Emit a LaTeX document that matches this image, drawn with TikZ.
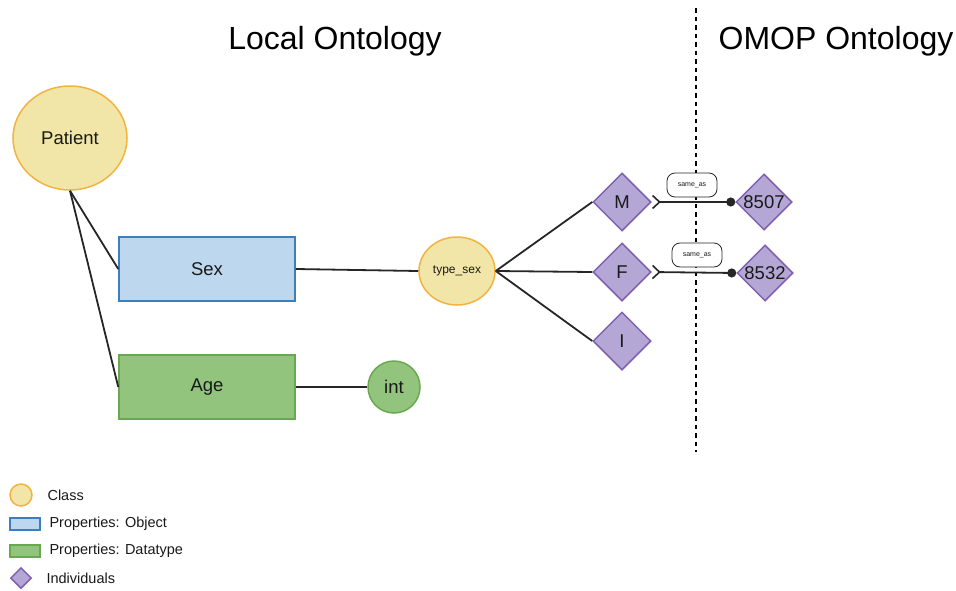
\documentclass[tikz,border=0pt]{standalone}
\usepackage{fontspec}
\setmainfont{Liberation Sans}
\usetikzlibrary{shapes.geometric,arrows.meta}

\definecolor{clsfill}{RGB}{241,229,168}
\definecolor{clsdraw}{RGB}{242,179,64}
\definecolor{objfill}{RGB}{189,215,238}
\definecolor{objdraw}{RGB}{61,126,191}
\definecolor{dtfill}{RGB}{147,196,125}
\definecolor{dtdraw}{RGB}{106,168,79}
\definecolor{indfill}{RGB}{180,167,214}
\definecolor{inddraw}{RGB}{128,96,176}
\definecolor{edgecol}{RGB}{38,38,38}
\definecolor{txt}{RGB}{25,25,25}

\newcommand{\fsz}[1]{\fontsize{#1}{#1}\selectfont}

\tikzset{
  class/.style={ellipse, draw=clsdraw, fill=clsfill, line width=1.5pt, inner sep=0pt, text=txt},
  objprop/.style={rectangle, draw=objdraw, fill=objfill, line width=1.5pt, inner sep=0pt, text=txt},
  dtprop/.style={rectangle, draw=dtdraw, fill=dtfill, line width=1.5pt, inner sep=0pt, text=txt},
  indiv/.style={diamond, draw=inddraw, fill=indfill, line width=1.5pt, inner sep=0pt, aspect=1, text=txt},
  link/.style={draw=edgecol, line width=1.8pt},
  sameas/.style={rectangle, rounded corners=8pt, draw=edgecol, fill=white, line width=0.8pt,
    minimum width=50pt, minimum height=24pt, inner sep=0pt, font=\fsz{7}, text=txt},
  divider/.style={draw=black, line width=1.6pt, dash pattern=on 4.5pt off 4pt},
  title/.style={font=\fsz{32}, text=black},
  legendtext/.style={anchor=west, font=\fsz{14.5}, text=txt},
}

\begin{document}
\begin{tikzpicture}[x=1pt,y=-1pt]
\useasboundingbox (0,0) rectangle (956,590);

% section titles and divider
\node[title] (localtitle) at (335,41) {Local Ontology};
\node[title] (omoptitle) at (836,41) {OMOP Ontology};
\coordinate (divtop) at (696,8);
\coordinate (divbot) at (696,452);
\draw[divider] (divtop) -- (divbot);

% classes and properties
\node[class, minimum width=114pt, minimum height=104pt, font=\fsz{18.5}] (patient) at (70,138) {Patient};
\node[objprop, minimum width=176pt, minimum height=64pt, font=\fsz{18.5}] (sex) at (207,269) {Sex};
\node[dtprop, minimum width=176pt, minimum height=64pt, font=\fsz{18.5}] (age) at (207,387) {Age};
\node[class, minimum width=76pt, minimum height=68pt, font=\fsz{12}] (typesex) at (457,271) {type\_sex};
\node[ellipse, draw=dtdraw, fill=dtfill, line width=1.5pt, minimum size=52pt, inner sep=0pt,
      font=\fsz{18.5}, text=txt] (int) at (394,387) {int};

% individuals
\node[indiv, minimum size=58pt, font=\fsz{18.5}] (m) at (622,202) {M};
\node[indiv, minimum size=58pt, font=\fsz{18.5}] (f) at (622,272) {F};
\node[indiv, minimum size=58pt, font=\fsz{18.5}] (i) at (622,341) {I};
\node[indiv, minimum size=56pt, font=\fsz{18.5}] (c8507) at (764,202) {8507};
\node[indiv, minimum size=56pt, font=\fsz{18.5}] (c8532) at (765,273) {8532};

% connectors
\draw[link] (patient.south) -- (sex.west);
\draw[link] (patient.south) -- (age.west);
\draw[link] (sex.east) -- (typesex.west);
\draw[link] (age.east) -- (int.west);
\draw[link] (typesex.east) -- (m.west);
\draw[link] (typesex.east) -- (f.west);
\draw[link] (typesex.east) -- (i.west);
\draw[link, {Straight Barb[reversed,length=7pt,width=13pt,line width=1.6pt]}-{Circle[length=9pt]}] (m.east) -- (c8507.west);
\draw[link, {Straight Barb[reversed,length=7pt,width=13pt,line width=1.6pt]}-{Circle[length=9pt]}] (f.east) -- (c8532.west);

% same_as labels
\node[sameas] (sa1) at (692,185) {same\_as};
\node[sameas] (sa2) at (697,255) {same\_as};

% legend
\node[ellipse, draw=clsdraw, fill=clsfill, line width=1.5pt, minimum size=22pt, inner sep=0pt] (lgclass) at (21,495) {};
\node[legendtext] (lgclasst) at (44,495) {Class};
\node[rectangle, draw=objdraw, fill=objfill, line width=1.5pt, minimum width=30pt, minimum height=12pt, inner sep=0pt] (lgobj) at (25,524) {};
\node[legendtext] (lgobjt) at (46,524) {Properties: Object};
\node[rectangle, draw=dtdraw, fill=dtfill, line width=1.5pt, minimum width=30pt, minimum height=12pt, inner sep=0pt] (lgdt) at (25,551) {};
\node[legendtext] (lgdtt) at (46,551) {Properties: Datatype};
\node[indiv, minimum size=21pt] (lgind) at (21,578) {};
\node[legendtext] (lgindt) at (43,578) {Individuals};
\end{tikzpicture}
\end{document}
